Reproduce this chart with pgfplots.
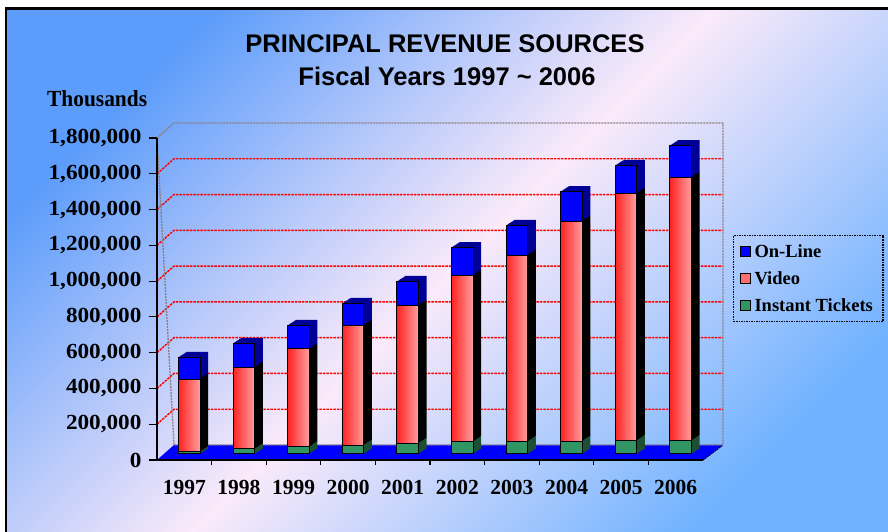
\documentclass[border=0pt]{standalone}
\usepackage{graphicx}
\usepackage{fontspec}
\setmainfont{Liberation Serif}
\newfontfamily\arialfont{Liberation Sans}
\newfontfamily\ylblfont{Liberation Serif}[FakeStretch=1.08]
\usepackage{pgfplots}
\pgfplotsset{compat=1.18}
\usepackage{pgfplotstable}

\definecolor{bgblue}{RGB}{92,156,250}
\definecolor{bgblueB}{RGB}{112,178,255}
\definecolor{bgpink}{RGB}{250,234,250}
\definecolor{online}{RGB}{0,0,255}
\definecolor{onlinedark}{RGB}{0,0,150}
\definecolor{videoL}{RGB}{255,35,35}
\definecolor{videoR}{RGB}{255,160,160}
\definecolor{videoM}{RGB}{255,110,110}
\definecolor{instant}{RGB}{50,150,100}
\definecolor{instantdark}{RGB}{28,80,52}
\definecolor{gridred}{RGB}{255,0,0}
\definecolor{wallgray}{RGB}{140,125,125}

\pgfplotstableread{
idx year instant video online
0 1997 12000 407000 123000
1 1998 28000 458000 134000
2 1999 40000 547000 134000
3 2000 50000 671000 123000
4 2001 60000 772000 134000
5 2002 68000 932000 156000
6 2003 70000 1042000 167000
7 2004 72000 1230000 167000
8 2005 75000 1383000 157000
9 2006 75000 1472000 179000
}\revdata

\pgfplotsset{barax/.style={anchor=south west, scale only axis, width=546pt, height=322pt,
  xmin=-0.5, xmax=9.5, ymin=0, ymax=1800000, hide axis, clip=false,
  ybar stacked, bar width=21.7pt}}

\begin{document}
\begin{tikzpicture}
\useasboundingbox (0pt,0pt) rectangle (888pt,532pt);
\fill[white] (0pt,0pt) rectangle (888pt,532pt);
\shade[shading=axis, top color=bgblue, bottom color=bgblueB, middle color=bgpink, shading angle=45] (6pt,-5pt) rectangle (895pt,523.5pt);
\draw[black, line width=2.5pt] (6pt,-5pt) rectangle (895pt,523.5pt);

\node[font=\arialfont\bfseries\fontsize{25.5}{28}\selectfont, anchor=base, inner sep=0pt] at (445pt,479pt) {PRINCIPAL REVENUE SOURCES};
\node[font=\arialfont\bfseries\fontsize{25.5}{28}\selectfont, anchor=base, inner sep=0pt] at (447pt,446pt) {Fiscal Years 1997 \textasciitilde{} 2006};
\node[font=\bfseries\fontsize{23}{24}\selectfont, anchor=base west, inner sep=0pt] at (47pt,425pt) {\scalebox{0.93}[1]{Thousands}};

\begin{axis}[
  at={(157pt,72pt)}, anchor=south west,
  scale only axis, width=546pt, height=322pt,
  xmin=-0.5, xmax=9.5, ymin=0, ymax=1800000,
  clip=false, axis on top,
  axis x line*=bottom, axis y line*=left,
  every outer x axis line/.append style={-},
  every outer y axis line/.append style={-},
  axis line style={black, line width=1.6pt},
  tick align=outside,
  xtick={0,1,2,3,4,5,6,7,8,9},
  xticklabels={1997,1998,1999,2000,2001,2002,2003,2004,2005,2006},
  minor x tick num=1,
  major x tick style={draw=none},
  minor x tick style={black, line width=1.2pt},
  major tick length=8pt, minor tick length=5pt,
  ytick={0,200000,400000,600000,800000,1000000,1200000,1400000,1600000,1800000},
  ytick style={black, line width=1.2pt},
  scaled y ticks=false,
  yticklabel style={/pgf/number format/fixed, /pgf/number format/precision=0,
    /pgf/number format/1000 sep={,}, /pgf/number format/assume math mode=true,
    font=\ylblfont\bfseries\fontsize{21.5}{22}\selectfont, xshift=-4pt},
  xticklabel style={font=\bfseries\fontsize{21.5}{22}\selectfont, yshift=-9pt},
]
% floor
\fill[blue] (axis cs:-0.5,0) -- (axis cs:9.5,0) -- ([shift={(20pt,15pt)}]axis cs:9.5,0) -- ([shift={(17pt,15pt)}]axis cs:-0.5,0) -- cycle;
\draw[black, line width=1.2pt, dash pattern=on 1.5pt off 1pt] (axis cs:9.5,0) -- ([shift={(20pt,15pt)}]axis cs:9.5,0);
% grid lines
\pgfplotsinvokeforeach{200000,400000,600000,800000,1000000,1200000,1400000,1600000}{
  \draw[gridred, line width=1.4pt, dash pattern=on 2.5pt off 1pt]
    (axis cs:-0.5,#1) -- ([shift={(17pt,15pt)}]axis cs:-0.5,#1) -- ([shift={(20pt,15pt)}]axis cs:9.5,#1);
}
% back wall border
\draw[wallgray, line width=1.3pt, dash pattern=on 2pt off 1pt]
  (axis cs:-0.5,1800000) -- ([shift={(17pt,15pt)}]axis cs:-0.5,1800000) -- ([shift={(20pt,15pt)}]axis cs:9.5,1800000) -- ([shift={(20pt,15pt)}]axis cs:9.5,0) -- ([shift={(17pt,15pt)}]axis cs:-0.5,0) -- cycle;
\end{axis}

% depth of bars
\foreach \s in {8,7,...,1} {
  \pgfmathsetmacro\dx{162+\s}
  \pgfmathsetmacro\dy{78+0.65*\s}
  \begin{axis}[barax, at={(\dx pt,\dy pt)}]
    \addplot[fill=instantdark, draw=none] table[x=idx,y=instant]{\revdata};
    \addplot[fill=black, draw=none] table[x=idx,y=video]{\revdata};
    \addplot[fill=onlinedark, draw=none] table[x=idx,y=online]{\revdata};
  \end{axis}
}

% front faces
\begin{axis}[barax, at={(162pt,78pt)},
  reverse legend,
  legend cell align=left,
  legend style={at={(1.0458,0.680)}, anchor=north west, draw=black, line width=1.2pt,
    dash pattern=on 1.5pt off 1pt, fill=none, row sep=8.5pt, inner xsep=6pt, inner ysep=7pt,
    font=\bfseries\fontsize{18.5}{20}\selectfont,
    nodes={inner xsep=4pt}},
  legend image code/.code={\draw[#1, draw=black, solid, line width=0.9pt] (0pt,-5pt) rectangle (10pt,5pt);},
]
  \addplot[fill=instant, draw=black, line width=1pt] table[x=idx,y=instant]{\revdata};
  \addlegendentry{Instant Tickets}
  \addplot[fill=videoM, draw=black, line width=1pt] table[x=idx,y=video]{\revdata};
  \addlegendentry{Video}
  \addplot[fill=online, draw=black, line width=1pt] table[x=idx,y=online]{\revdata};
  \addlegendentry{On-Line}
\end{axis}

% horizontal gradient on each video bar
\foreach \i in {0,...,9} {
  \pgfmathsetmacro\lo{\i-0.3}
  \pgfmathsetmacro\hi{\i+0.3}
  \begin{axis}[barax, at={(162pt,78pt)}, restrict x to domain=\lo:\hi]
    \addplot[draw=none, fill=none] table[x=idx,y=instant]{\revdata};
    \addplot[left color=videoL, right color=videoR, draw=black, line width=1pt] table[x=idx,y=video]{\revdata};
  \end{axis}
}
\end{tikzpicture}
\end{document}
